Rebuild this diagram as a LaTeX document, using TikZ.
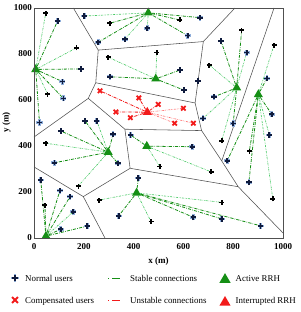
\documentclass[tikz,border=0pt]{standalone}
\usepackage{fontspec}
\setmainfont{Liberation Serif}
\usepackage{tikz}
\usetikzlibrary{shapes.geometric,backgrounds}
\definecolor{simGreen}{HTML}{158F15}
\definecolor{simGreenLt}{HTML}{45C862}
\definecolor{simNavy}{HTML}{0F1B3D}
\definecolor{simHalo}{HTML}{8FAEDA}
\definecolor{simRed}{HTML}{F21A1A}
\definecolor{simRedLt}{HTML}{FF7070}
\definecolor{simGray}{HTML}{505050}
\tikzset{
  usr/.style={rectangle, inner sep=0pt, minimum size=10pt, path picture={
    \draw[simHalo, line width=2.6pt] (path picture bounding box.center) +(-#1-0.35pt,0) -- +(#1+0.35pt,0) +(0,-#1-0.35pt) -- +(0,#1+0.35pt);
    \draw[simNavy, line width=1.75pt] (path picture bounding box.center) +(-#1,0) -- +(#1,0) +(0,-#1) -- +(0,#1);}},
  usr/.default=2.7pt,
  usrk/.style={rectangle, inner sep=0pt, minimum size=10pt, path picture={
    \draw[black, line width=1.6pt] (path picture bounding box.center) +(-#1,0) -- +(#1,0) +(0,-#1) -- +(0,#1);}},
  usrk/.default=2.5pt,
  comp/.style={rectangle, inner sep=0pt, minimum size=10pt, path picture={
    \draw[simRed, line width=1.8pt] (path picture bounding box.center) +(-#1,-#1) -- +(#1,#1) +(-#1,#1) -- +(#1,-#1);}},
  comp/.default=2.2pt,
  rrh/.style={regular polygon, regular polygon sides=3, inner sep=0pt, minimum size=10.5pt, fill=#1},
  estable/.style={draw=simGreen, line width=0.8pt, dash pattern=on 3.2pt off 1.2pt on 0.6pt off 1.2pt},
  establebis/.style={draw=simGreenLt, line width=0.65pt, dash pattern=on 2pt off 1pt on 0.5pt off 1pt on 0.5pt off 1pt},
  inestable/.style={draw=simRed, line width=0.8pt, dash pattern=on 3.2pt off 1.2pt on 0.6pt off 1.2pt},
  inestablebis/.style={draw=simRedLt, line width=0.65pt, dash pattern=on 2pt off 1pt on 0.5pt off 1pt on 0.5pt off 1pt},
  muestra/.style={line width=0.9pt, dash pattern=on 0.9pt off 3.2pt on 7.5pt off 5pt},
  celda/.style={draw=simGray, line width=0.55pt},
  eje/.style={font=\fontsize{9}{10}\selectfont\bfseries, inner sep=0pt},
  leyenda/.style={font=\fontsize{8.9}{10}\selectfont, inner sep=0pt, anchor=base west},
}

\begin{document}
\begin{tikzpicture}[x=1pt, y=1pt]
\useasboundingbox (0,0) rectangle (300,312);
\begin{scope}[xshift=34pt, yshift=74pt, x=0.249pt, y=0.23pt]
% RRH
\node[rrh=simGreen] (r1) at (7,733) {};
\node[rrh=simGreen] (r2) at (459,979) {};
\node[rrh=simGreen] (r3) at (489,692) {};
\node[rrh=simRed] (r4) at (455,547) {};
\node[rrh=simGreen] (r5) at (298,373) {};
\node[rrh=simGreen] (r6) at (48,8) {};
\node[rrh=simGreen] (r7) at (453,399) {};
\node[rrh=simGreen] (r8) at (412,196) {};
\node[rrh=simGreen] (r9) at (814,653) {};
\node[rrh=simGreen] (r10) at (901,624) {};
% usuarios
\foreach \n/\x/\y in {2/95/944, 3/202/965, 5/258/851, 7/189/735, 9/305/701, 10/114/680, 12/118/607,
  13/22/502, 14/205/509, 15/252/509, 17/667/958, 18/455/912, 19/365/864, 20/617/880, 22/586/730,
  23/602/643, 24/659/683, 25/679/520, 27/751/857, 28/854/806, 31/935/694, 32/723/614, 33/955/538,
  34/800/498, 35/108/465, 37/318/451, 38/337/325, 39/82/327, 41/27/252, 42/104/206, 43/145/180,
  45/158/114, 46/214/52, 47/107/38, 49/388/448, 50/636/397, 52/419/260, 53/340/96, 55/640/90,
  57/945/448, 59/776/336, 60/863/242, 64/754/83, 65/910/53}
  \node[usr] (u\n) at (\x,\y) {};
\foreach \n/\x/\y in {1/47/977, 4/305/934, 6/171/827, 8/298/786, 11/55/626, 16/586/948, 21/493/807,
  26/834/904, 29/964/839, 30/704/752, 36/47/412, 40/178/226, 44/44/143, 48/262/165, 51/506/310,
  54/470/71, 56/754/423, 58/865/378, 61/711/288, 62/959/170, 63/754/155}
  \node[usrk] (u\n) at (\x,\y) {};
\foreach \n/\x/\y in {1/265/640, 2/329/548, 3/421/609, 4/499/581, 5/600/564, 6/387/523, 7/565/499, 8/640/499}
  \node[comp] (x\n) at (\x,\y) {};
% celdas
\coordinate (t1) at (158,1000);
\coordinate (t2) at (807,1000);
\coordinate (t3) at (964,1000);
\coordinate (l1) at (0,439);
\coordinate (l2) at (0,309);
\coordinate (b1) at (285,0);
\coordinate (c1) at (1000,22);
\coordinate (va) at (258,817);
\coordinate (vb) at (680,854);
\coordinate (vc) at (218,607);
\coordinate (vd) at (248,675);
\coordinate (ve) at (647,587);
\coordinate (vf) at (673,467);
\coordinate (vg) at (365,473);
\coordinate (vh) at (386,303);
\coordinate (vi) at (198,180);
\coordinate (vj) at (820,223);
\coordinate (vk) at (754,335);
\begin{scope}[on background layer]
\draw[celda] (t1) -- (va) -- (vb) -- (t2) (va) -- (vd) -- (vc) -- (l1) (vc) -- (vg) -- (vh) -- (vi) -- (l2)
  (vi) -- (b1) (vd) -- (ve) -- (vf) -- (vg) (vb) -- (ve) (vf) -- (vk) -- (vj) -- (c1) (vk) -- (t3) (vh) -- (vj);
\foreach \r/\u in {1/2, 1/7, 1/10, 1/12, 1/13, 2/4, 2/5, 2/16, 2/17, 2/20, 3/9, 3/22, 3/23,
  5/14, 5/35, 5/37, 5/38, 5/39, 6/41, 6/42, 6/43, 6/44, 6/46, 6/47, 7/49, 7/50,
  8/52, 8/53, 8/55, 8/64, 8/65, 9/26, 9/27, 9/32, 9/34, 10/31, 10/33, 10/58, 10/59, 10/60}
  \draw[estable] (r\r) -- (u\u.center);
\foreach \r/\u in {1/1, 1/6, 1/11, 2/3, 2/18, 2/19, 3/8, 3/21, 5/15, 5/36, 5/40, 6/45, 7/51, 7/61,
  8/48, 8/54, 8/63, 9/25, 9/28, 9/30, 9/56, 10/29, 10/57, 10/62}
  \draw[establebis] (r\r) -- (u\u.center);
\foreach \k in {1,2,3,4,6} \draw[inestable] (r4) -- (x\k.center);
\foreach \k in {5,7,8} \draw[inestablebis] (r4) -- (x\k.center);
\end{scope}
\draw[simGray, line width=0.6pt] (0,0) rectangle (1000,1000);
\foreach \v in {0,200,...,1000} {
  \node[eje, anchor=east] (ty\v) at ([xshift=-2pt]0,\v) {\v};
  \node[eje, anchor=base] (tx\v) at ([yshift=-11.8pt]\v,0) {\v};
}
\node[eje, anchor=base] (xlab) at ([yshift=-26pt]500,0) {x (m)};
\end{scope}
\node[eje, rotate=90] (ylab) at (6.5,189.5) {y (m)};
% leyenda
\node[usr=3.4pt, minimum size=12pt] (lu) at (15,34) {};
\node[leyenda] (tu) at (25,30.5) {Normal users};
\node[comp=2.9pt, minimum size=12pt] (lc) at (15,12) {};
\node[leyenda] (tc) at (25,9) {Compensated users};
\coordinate (le1) at (108,34);
\coordinate (le2) at (120,34);
\draw[estable, muestra] (le1) -- (le2);
\node[leyenda] (ts) at (130,30.5) {Stable connections};
\coordinate (li1) at (108,12);
\coordinate (li2) at (120,12);
\draw[inestable, muestra] (li1) -- (li2);
\node[leyenda] (ti) at (130,9) {Unstable connections};
\node[rrh=simGreen, minimum size=13pt] (la) at (225,32.4) {};
\node[leyenda] (ta) at (235.5,30.5) {Active RRH};
\node[rrh=simRed, minimum size=13pt] (lr) at (225,9.5) {};
\node[leyenda] (tr) at (235.5,9) {Interrupted RRH};
\end{tikzpicture}
\end{document}
